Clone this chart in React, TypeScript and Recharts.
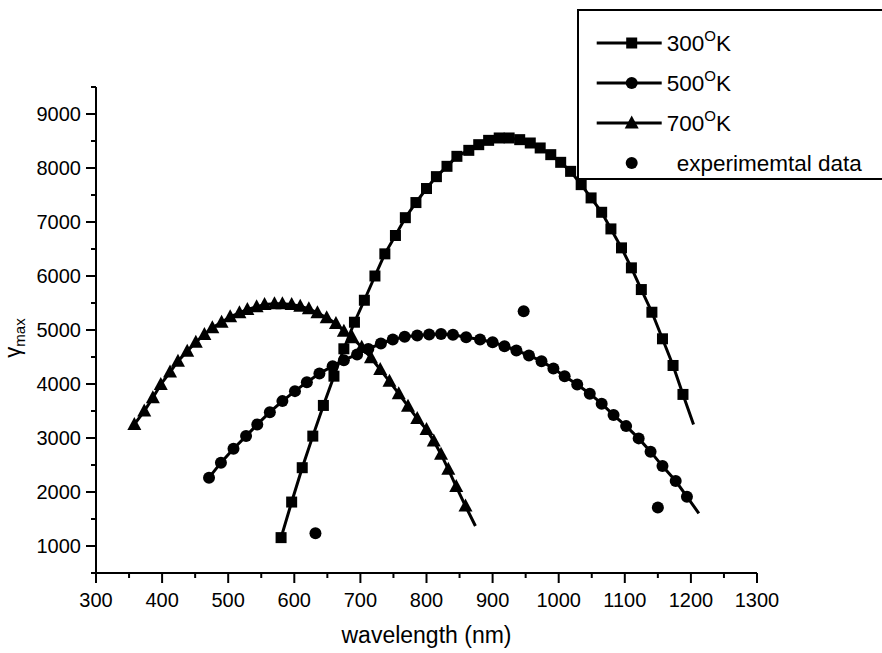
import React from 'react';
import { ComposedChart, Line, Scatter, XAxis, YAxis, Legend } from 'recharts';

const FONT = '"Liberation Sans", Arial, Helvetica, sans-serif';

// 300 K curve (last point is where the drawn line ends, no marker)
const k300Wavelength = [580, 596, 612, 628, 644, 660, 675, 691, 706, 722, 737, 753, 768, 784, 800, 815, 831, 846, 864, 879, 894, 910, 925, 941, 957, 972, 988, 1003, 1018, 1034, 1049, 1065, 1079, 1095, 1110, 1125, 1141, 1157, 1173, 1188, 1204];
const k300Gamma = [1155, 1814, 2450, 3035, 3603, 4145, 4652, 5144, 5551, 6000, 6410, 6750, 7080, 7360, 7620, 7840, 8031, 8216, 8327, 8432, 8512, 8556, 8556, 8525, 8463, 8371, 8247, 8105, 7938, 7692, 7446, 7180, 6872, 6521, 6151, 5749, 5329, 4837, 4343, 3807, 3252];

// 500 K curve
const k500Wavelength = [471, 489, 508, 527, 544, 563, 582, 601, 619, 638, 658, 675, 695, 712, 731, 749, 767, 786, 804, 822, 840, 860, 881, 900, 918, 936, 955, 974, 992, 1009, 1028, 1047, 1065, 1083, 1102, 1121, 1139, 1157, 1177, 1194, 1212];
const k500Gamma = [2266, 2543, 2802, 3035, 3252, 3479, 3683, 3868, 4034, 4195, 4330, 4441, 4547, 4650, 4750, 4824, 4874, 4898, 4917, 4925, 4910, 4865, 4824, 4774, 4700, 4621, 4528, 4423, 4288, 4145, 3992, 3820, 3635, 3424, 3220, 2993, 2747, 2480, 2203, 1914, 1605];

// 700 K curve
const k700Wavelength = [358, 373, 386, 398, 412, 424, 438, 451, 464, 476, 490, 503, 517, 529, 543, 555, 570, 582, 596, 609, 622, 635, 649, 663, 675, 688, 702, 716, 730, 744, 758, 772, 786, 800, 811, 822, 833, 845, 859, 874];
const k700Gamma = [3252, 3498, 3745, 3992, 4220, 4423, 4608, 4774, 4917, 5040, 5144, 5244, 5318, 5379, 5429, 5472, 5485, 5485, 5472, 5441, 5392, 5318, 5226, 5120, 4978, 4856, 4680, 4486, 4269, 4050, 3820, 3590, 3360, 3159, 2943, 2700, 2420, 2100, 1740, 1370];

// experimental points
const expWavelength = [632, 947, 1150];
const expGamma = [1235, 5348, 1711];

const xMajorTicks = [300, 400, 500, 600, 700, 800, 900, 1000, 1100, 1200, 1300];
const xMinorTicks = [350, 450, 550, 650, 750, 850, 950, 1050, 1150, 1250];
const yMajorTicks = [1000, 2000, 3000, 4000, 5000, 6000, 7000, 8000, 9000];
const yMinorTicks = [500, 1500, 2500, 3500, 4500, 5500, 6500, 7500, 8500, 9500];

const toPoints = (xs: number[], ys: number[]) => xs.map((x, i) => ({ x, y: ys[i] }));

const data300 = toPoints(k300Wavelength, k300Gamma);
const data500 = toPoints(k500Wavelength, k500Gamma);
const data700 = toPoints(k700Wavelength, k700Gamma);
const dataExp = toPoints(expWavelength, expGamma);

type Shape = 'square' | 'circle' | 'triangle';

const marker = (shape: Shape, cx: number, cy: number) => {
  if (shape === 'square') return <rect x={cx - 5.5} y={cy - 5.5} width={11} height={11} fill="#000" />;
  if (shape === 'circle') return <circle cx={cx} cy={cy} r={6} fill="#000" />;
  return <polygon points={`${cx},${cy - 7.5} ${cx + 7},${cy + 5.5} ${cx - 7},${cy + 5.5}`} fill="#000" />;
};

// markers on every point except the final line end
const makeDot = (shape: Shape, count: number) => (props: any) => {
  const { cx, cy, index } = props;
  if (index === count - 1 || cx == null || cy == null) return <g key={`d-${index}`} />;
  return <g key={`d-${index}`}>{marker(shape, cx, cy)}</g>;
};

const XTick = (props: any) => {
  const { x, y, payload } = props;
  const major = xMajorTicks.includes(payload.value);
  return (
    <g>
      <line x1={x} x2={x} y1={y} y2={y + (major ? 10 : 5)} stroke="#000" strokeWidth={2} />
      {major && (
        <text x={x} y={y + 34} textAnchor="middle" fontSize={20} fontFamily={FONT} fill="#000">
          {payload.value}
        </text>
      )}
    </g>
  );
};

const YTick = (props: any) => {
  const { x, y, payload } = props;
  const major = yMajorTicks.includes(payload.value);
  return (
    <g>
      <line x1={x} x2={x - (major ? 10 : 5)} y1={y} y2={y} stroke="#000" strokeWidth={2} />
      {major && (
        <text x={x - 15} y={y + 7} textAnchor="end" fontSize={20} fontFamily={FONT} fill="#000">
          {payload.value}
        </text>
      )}
    </g>
  );
};

const XLabel = ({ viewBox }: any) => (
  <text x={viewBox.x + viewBox.width / 2} y={viewBox.y + 70} textAnchor="middle" fontSize={23} fontFamily={FONT} fill="#000">
    wavelength (nm)
  </text>
);

const YLabel = ({ viewBox }: any) => {
  const cx = viewBox.x + 20;
  const cy = viewBox.y + viewBox.height / 2 + 8;
  return (
    <text x={cx} y={cy} transform={`rotate(-90 ${cx} ${cy})`} textAnchor="middle" fontFamily={FONT} fill="#000">
      <tspan fontSize={22}>γ</tspan>
      <tspan fontSize={15} dy={5}>max</tspan>
    </text>
  );
};

const legendRows: { label: string; shape: Shape | 'dot' }[] = [
  { label: '300', shape: 'square' },
  { label: '500', shape: 'circle' },
  { label: '700', shape: 'triangle' },
  { label: 'experimemtal data', shape: 'dot' },
];

const renderLegend = () => (
  <div
    style={{
      boxSizing: 'border-box',
      width: 305,
      height: 171,
      borderTop: '2px solid #000',
      borderLeft: '2px solid #000',
      borderBottom: '2px solid #000',
      background: '#fff',
    }}
  >
    <svg width={303} height={167} style={{ display: 'block' }}>
      {legendRows.map((row, i) => {
        const cy = 32 + i * 40;
        if (row.shape === 'dot') {
          return (
            <g key={row.label}>
              <circle cx={52.7} cy={cy} r={6} fill="#000" />
              <text x={97.7} y={cy + 8} fontSize={22.5} fontFamily={FONT} fill="#000">{row.label}</text>
            </g>
          );
        }
        return (
          <g key={row.label}>
            <line x1={17.7} x2={82.7} y1={cy} y2={cy} stroke="#000" strokeWidth={3} />
            {marker(row.shape, 52.7, cy)}
            <text x={87.7} y={cy + 8} fontSize={22.5} fontFamily={FONT} fill="#000">
              {row.label}
              <tspan fontSize={15} dy={-10}>O</tspan>
              <tspan dy={10}>K</tspan>
            </text>
          </g>
        );
      })}
    </svg>
  </div>
);

const App: React.FC = () => {
  return (
    <div style={{ position: 'absolute', left: 0, top: 0, width: 882, height: 653, background: '#fff' }}>
      <ComposedChart width={882} height={653} margin={{ top: 87, right: 125, bottom: 0, left: 0 }}>
        <XAxis
          dataKey="x"
          type="number"
          domain={[300, 1300]}
          ticks={[...xMajorTicks, ...xMinorTicks].sort((a, b) => a - b)}
          interval={0}
          tickSize={0}
          tickMargin={0}
          tickLine={false}
          tick={<XTick />}
          axisLine={{ stroke: '#000', strokeWidth: 2 }}
          height={80}
          label={<XLabel />}
          allowDataOverflow
        />
        <YAxis
          dataKey="y"
          type="number"
          domain={[500, 9500]}
          ticks={[...yMajorTicks, ...yMinorTicks].sort((a, b) => a - b)}
          interval={0}
          tickSize={0}
          tickMargin={0}
          tickLine={false}
          tick={<YTick />}
          axisLine={{ stroke: '#000', strokeWidth: 2 }}
          width={96}
          label={<YLabel />}
          allowDataOverflow
        />
        <Legend
          content={renderLegend}
          layout="vertical"
          align="center"
          verticalAlign="middle"
          wrapperStyle={{ left: 577, top: 9, width: 305, height: 171 }}
        />
        <Line data={data700} dataKey="y" name="700K" type="linear" stroke="#000" strokeWidth={3} dot={makeDot('triangle', data700.length)} activeDot={false} isAnimationActive={false} />
        <Line data={data500} dataKey="y" name="500K" type="linear" stroke="#000" strokeWidth={3} dot={makeDot('circle', data500.length)} activeDot={false} isAnimationActive={false} />
        <Line data={data300} dataKey="y" name="300K" type="linear" stroke="#000" strokeWidth={3} dot={makeDot('square', data300.length)} activeDot={false} isAnimationActive={false} />
        <Scatter
          data={dataExp}
          dataKey="y"
          name="experimemtal data"
          shape={(p: any) => <circle cx={p.cx} cy={p.cy} r={6} fill="#000" />}
          isAnimationActive={false}
        />
      </ComposedChart>
    </div>
  );
};

export default App;
